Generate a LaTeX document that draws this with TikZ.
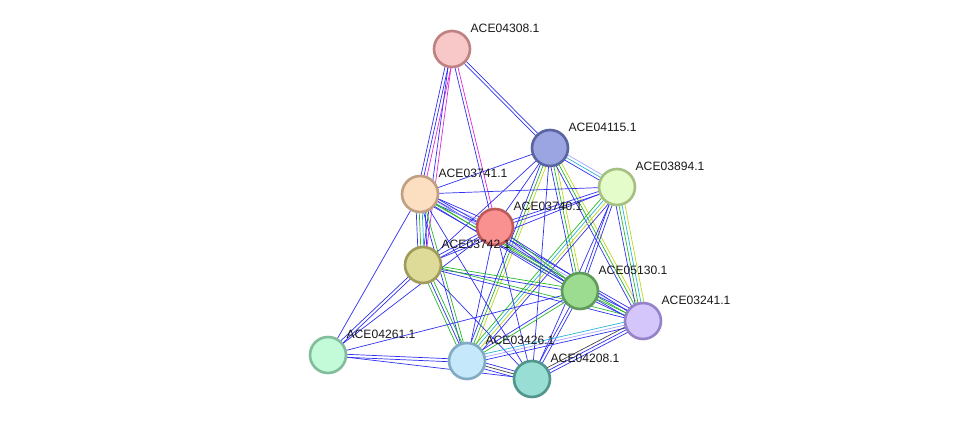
\documentclass[tikz,border=0pt]{standalone}
\usepackage{fontspec}
\setmainfont{Liberation Sans}
\usetikzlibrary{calc,backgrounds}

% evidence colours
\definecolor{eBlue}{RGB}{48,48,240}
\definecolor{eGreen}{RGB}{40,185,40}
\definecolor{eYel}{RGB}{195,212,30}
\definecolor{eCyan}{RGB}{40,180,215}
\definecolor{eMag}{RGB}{220,40,220}
\definecolor{eBlack}{RGB}{70,70,70}
\definecolor{eLav}{RGB}{165,165,255}

% one line per evidence, side by side
\newcommand{\evlink}[3]{%
  \foreach \c [count=\i] in {#3} {\xdef\nlines{\i}}%
  \foreach \c [count=\i] in {#3} {%
    \pgfmathsetmacro\off{(\i-1-(\nlines-1)/2)*1.7}%
    \draw[color=\c] ($(#1)!\off pt!90:(#2)$) -- ($(#2)!\off pt!-90:(#1)$);
  }%
}

\tikzset{
  prot/.style={circle, minimum size=0.72cm, line width=1.5pt, inner sep=0pt},
  lbl/.style={anchor=west, inner sep=0pt, font=\fontsize{6.9}{8}\selectfont, text=black!90},
}

\begin{document}
\begin{tikzpicture}[x=0.02cm, y=-0.02cm, line width=0.75pt]
    \useasboundingbox (0,0) rectangle (975,425);

    % Proteins
    \node[prot, fill={rgb,255:red,248;green,200;blue,200}, draw={rgb,255:red,190;green,130;blue,130}] (n04308) at (452,49) {};
    \node[prot, fill={rgb,255:red,155;green,165;blue,225}, draw={rgb,255:red,90;green,100;blue,160}] (n04115) at (550,148) {};
    \node[prot, fill={rgb,255:red,228;green,252;blue,202}, draw={rgb,255:red,165;green,192;blue,130}] (n03894) at (617,187) {};
    \node[prot, fill={rgb,255:red,252;green,222;blue,192}, draw={rgb,255:red,192;green,160;blue,130}] (n03741) at (420,194) {};
    \node[prot, fill={rgb,255:red,250;green,145;blue,145}, draw={rgb,255:red,190;green,90;blue,90}] (n03740) at (495,227) {};
    \node[prot, fill={rgb,255:red,222;green,218;blue,152}, draw={rgb,255:red,160;green,155;blue,90}] (n03742) at (423,265) {};
    \node[prot, fill={rgb,255:red,155;green,220;blue,145}, draw={rgb,255:red,95;green,155;blue,90}] (n05130) at (580,291) {};
    \node[prot, fill={rgb,255:red,212;green,197;blue,250}, draw={rgb,255:red,150;green,130;blue,200}] (n03241) at (643,321) {};
    \node[prot, fill={rgb,255:red,195;green,250;blue,215}, draw={rgb,255:red,130;green,190;blue,155}] (n04261) at (328,355) {};
    \node[prot, fill={rgb,255:red,197;green,232;blue,250}, draw={rgb,255:red,130;green,170;blue,195}] (n03426) at (467,361) {};
    \node[prot, fill={rgb,255:red,152;green,222;blue,212}, draw={rgb,255:red,80;green,150;blue,140}] (n04208) at (532,379) {};

    % Labels
    \node[lbl] (l04308) at ($(n04308)+(18,-21)$) {ACE04308.1};
    \node[lbl] (l04115) at ($(n04115)+(18,-21)$) {ACE04115.1};
    \node[lbl] (l03894) at ($(n03894)+(18,-21)$) {ACE03894.1};
    \node[lbl] (l03741) at ($(n03741)+(18,-21)$) {ACE03741.1};
    \node[lbl] (l03740) at ($(n03740)+(18,-21)$) {ACE03740.1};
    \node[lbl] (l03742) at ($(n03742)+(18,-21)$) {ACE03742.1};
    \node[lbl] (l05130) at ($(n05130)+(18,-21)$) {ACE05130.1};
    \node[lbl] (l03241) at ($(n03241)+(18,-21)$) {ACE03241.1};
    \node[lbl] (l04261) at ($(n04261)+(18,-21)$) {ACE04261.1};
    \node[lbl] (l03426) at ($(n03426)+(18,-21)$) {ACE03426.1};
    \node[lbl] (l04208) at ($(n04208)+(18,-21)$) {ACE04208.1};

    % Interactions
    \begin{scope}[on background layer]
    \evlink{n04308}{n04115}{eBlue,eBlue}
    \evlink{n04308}{n03741}{eBlue,eBlue,eMag}
    \evlink{n04308}{n03742}{eBlue,eMag}
    \evlink{n04308}{n03740}{eBlue,eMag}

    \evlink{n04115}{n03894}{eBlue,eCyan,eLav}
    \evlink{n04115}{n03741}{eBlue}
    \evlink{n04115}{n03740}{eBlue}
    \evlink{n04115}{n03742}{eBlue}
    \evlink{n04115}{n05130}{eBlue,eGreen,eYel}
    \evlink{n04115}{n03241}{eBlue,eGreen,eYel}
    \evlink{n04115}{n03426}{eBlue,eGreen,eYel}
    \evlink{n04115}{n04208}{eBlue}

    \evlink{n03894}{n03741}{eBlue}
    \evlink{n03894}{n03740}{eBlue,eBlue}
    \evlink{n03894}{n03742}{eBlue}
    \evlink{n03894}{n05130}{eBlue,eBlue}
    \evlink{n03894}{n03241}{eBlue,eGreen,eCyan,eYel}
    \evlink{n03894}{n03426}{eGreen,eCyan,eYel,eBlue}
    \evlink{n03894}{n04208}{eBlue}

    \evlink{n03741}{n03740}{eBlue,eLav,eBlue}
    \evlink{n03741}{n03742}{eBlue,eGreen,eCyan,eBlue}
    \evlink{n03741}{n05130}{eBlue,eGreen,eBlue}
    \evlink{n03741}{n03241}{eBlue,eGreen,eLav,eBlue}
    \evlink{n03741}{n03426}{eBlue,eGreen}
    \evlink{n03741}{n04208}{eBlue}
    \evlink{n03741}{n04261}{eBlue}

    \evlink{n03740}{n03742}{eBlue,eBlue}
    \evlink{n03740}{n05130}{eBlue,eGreen}
    \evlink{n03740}{n03241}{eBlue}
    \evlink{n03740}{n03426}{eBlue}
    \evlink{n03740}{n04208}{eBlue}
    \evlink{n03740}{n04261}{eBlue}

    \evlink{n03742}{n05130}{eBlue,eGreen}
    \evlink{n03742}{n03241}{eBlue,eGreen}
    \evlink{n03742}{n03426}{eGreen,eBlue,eGreen}
    \evlink{n03742}{n04208}{eBlue}
    \evlink{n03742}{n04261}{eBlue,eBlue}

    \evlink{n05130}{n03241}{eBlue,eGreen,eBlue}
    \evlink{n05130}{n03426}{eBlue,eGreen}
    \evlink{n05130}{n04208}{eBlue,eBlue}
    \evlink{n05130}{n04261}{eBlue}

    \evlink{n03241}{n03426}{eCyan,eLav,eBlue}
    \evlink{n03241}{n04208}{eBlack,eBlue,eBlue}

    \evlink{n04261}{n03426}{eBlue,eBlue}
    \evlink{n04261}{n04208}{eBlue}
    \evlink{n03426}{n04208}{eBlue,eBlack,eBlue}
    \end{scope}
\end{tikzpicture}
\end{document}
